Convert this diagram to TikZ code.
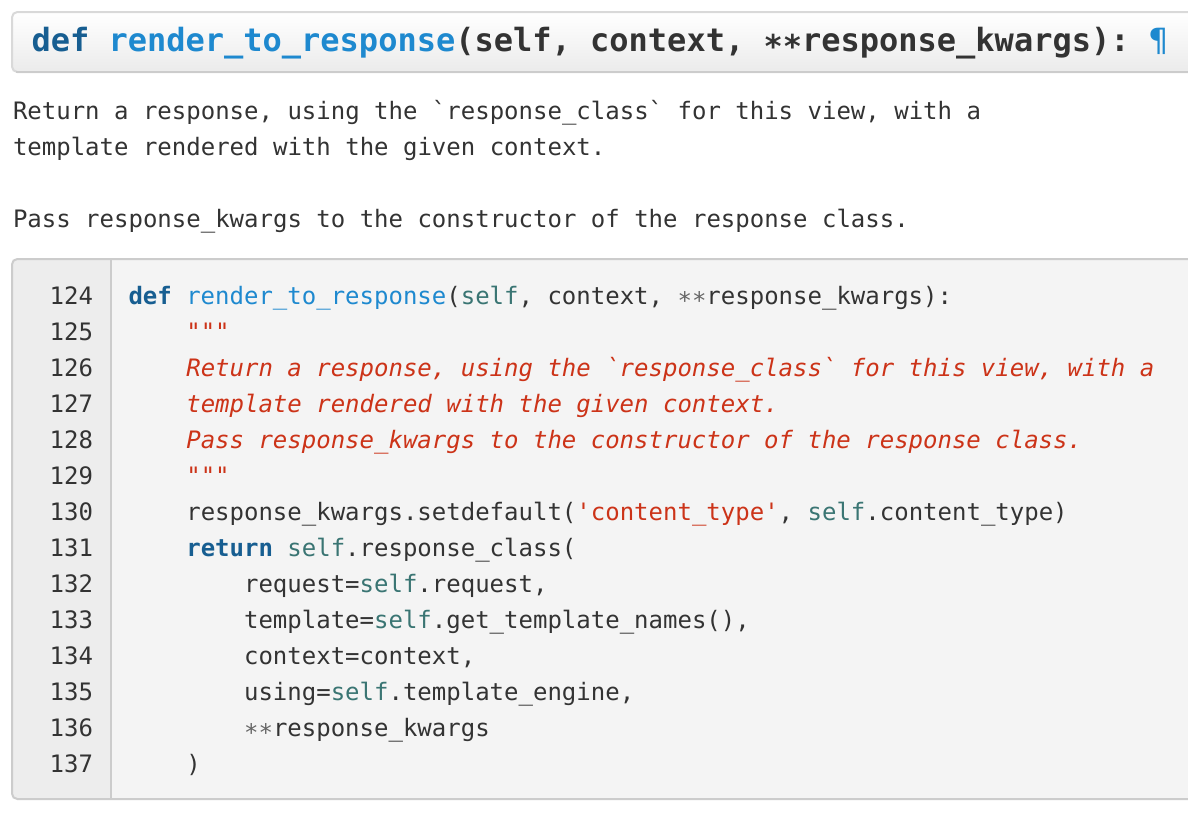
\documentclass[tikz,border=0pt]{standalone}
\usepackage{fontspec}
\setmonofont{DejaVu Sans Mono}
\definecolor{kw}{HTML}{175E91}
\definecolor{fn}{HTML}{1E89CF}
\definecolor{slf}{HTML}{3A7573}
\definecolor{str}{HTML}{CC3318}
\definecolor{txt}{HTML}{333333}
\definecolor{op}{HTML}{666666}
\definecolor{boxbg}{HTML}{F4F4F4}
\definecolor{gutbg}{HTML}{EDEDED}
\definecolor{brd}{HTML}{CCCCCC}
\definecolor{hbrd}{HTML}{D9D9D9}
\definecolor{hbot}{HTML}{EBEBEB}
\newcommand{\K}[1]{\textcolor{kw}{\bfseries #1}}
\newcommand{\F}[1]{\textcolor{fn}{#1}}
\newcommand{\Sf}[1]{\textcolor{slf}{#1}}
\newcommand{\St}[1]{\textcolor{str}{#1}}
\newcommand{\Op}[1]{\textcolor{op}{#1}}
\begin{document}
\begin{tikzpicture}[x=0.75pt,y=-0.75pt,
  codetext/.style={anchor=base west,inner sep=0pt,outer sep=0pt,text=txt,
    font=\ttfamily\fontsize{18pt}{18pt}\selectfont\frenchspacing},
  lnum/.style={anchor=base east,inner sep=0pt,outer sep=0pt,text=txt,
    font=\ttfamily\fontsize{18pt}{18pt}\selectfont},
  headtext/.style={anchor=base west,inner sep=0pt,outer sep=0pt,text=txt,
    font=\ttfamily\bfseries\fontsize{24pt}{24pt}\selectfont\frenchspacing},
  doc/.style={codetext,text=str,font=\ttfamily\itshape\fontsize{18pt}{18pt}\selectfont\frenchspacing}]
\useasboundingbox (0,0) rectangle (1188,814);
\clip (0,0) rectangle (1188,814);
\fill[white] (0,0) rectangle (1188,814);
% header box
\shade[top color=white,bottom color=hbot,rounded corners=4] (12,12) rectangle (1210,72);
\draw[hbrd,line width=1.5,rounded corners=4] (12,12) rectangle (1210,72);
\draw[brd,line width=1.5] (16,72) -- (1210,72);
\node[headtext] (head) at (31.5,51) {\K{def} \textcolor{fn}{render\_to\_response}(self, context, ∗∗response\_kwargs): \textcolor{fn}{\mdseries ¶}};
% description
\node[codetext] (d1) at (13,119) {Return a response, using the `response\_class` for this view, with a};
\node[codetext] (d2) at (13,155) {template rendered with the given context.};
\node[codetext] (d3) at (13,227) {Pass response\_kwargs to the constructor of the response class.};
% code box
\fill[boxbg,rounded corners=4] (12,259) rectangle (1210,799);
\fill[gutbg,rounded corners=4] (12,259) rectangle (111,799);
\fill[gutbg] (60,260) rectangle (111,798);
\draw[brd,line width=1.5] (111,259) -- (111,799);
\draw[brd,line width=1.5,rounded corners=4] (12,259) rectangle (1210,799);
% line numbers
\foreach \n [count=\i from 0] in {124,...,137}{
  \node[lnum] (ln\n) at (93,304+36*\i) {\n};
}
% code lines
\node[codetext] (c124) at (128.5,304) {\K{def} \F{render\_to\_response}(\Sf{self}, context, \Op{∗∗}response\_kwargs):};
\node[codetext] (c125) at (186.3,340) {\St{"""}};
\node[doc] (c126) at (186.3,376) {Return a response, using the `response\_class` for this view, with a};
\node[doc] (c127) at (186.3,412) {template rendered with the given context.};
\node[doc] (c128) at (186.3,448) {Pass response\_kwargs to the constructor of the response class.};
\node[codetext] (c129) at (186.3,484) {\St{"""}};
\node[codetext] (c130) at (186.3,520) {response\_kwargs.setdefault(\St{'content\_type'}, \Sf{self}.content\_type)};
\node[codetext] (c131) at (186.3,556) {\K{return} \Sf{self}.response\_class(};
\node[codetext] (c132) at (244.1,592) {request=\Sf{self}.request,};
\node[codetext] (c133) at (244.1,628) {template=\Sf{self}.get\_template\_names(),};
\node[codetext] (c134) at (244.1,664) {context=context,};
\node[codetext] (c135) at (244.1,700) {using=\Sf{self}.template\_engine,};
\node[codetext] (c136) at (244.1,736) {\Op{∗∗}response\_kwargs};
\node[codetext] (c137) at (186.3,772) {)};
\end{tikzpicture}
\end{document}
